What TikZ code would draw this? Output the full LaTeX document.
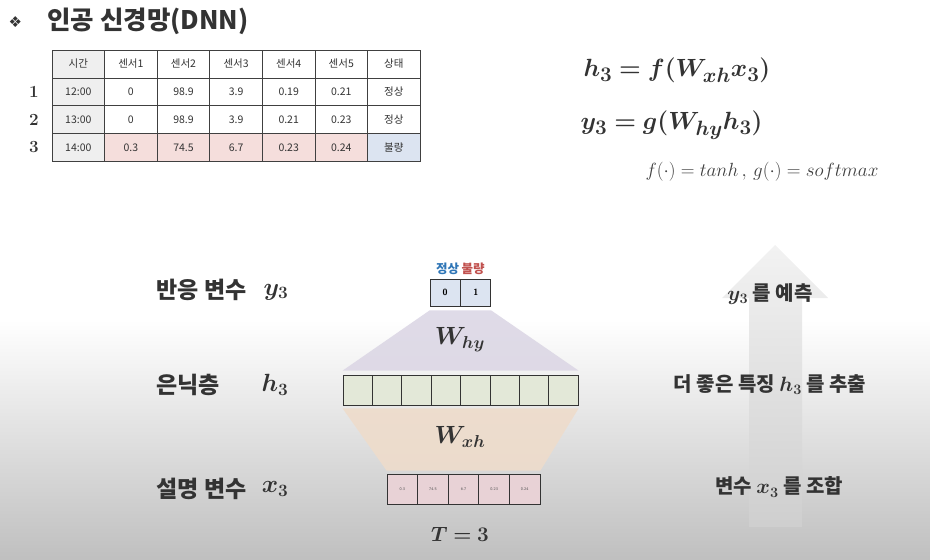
\documentclass[tikz,border=0pt]{standalone}
\usepackage{amsmath,amssymb,bm}
\usepackage{fontspec}
\usepackage{xcolor}
\usepackage{tikz}
\usetikzlibrary{positioning,calc}

\newfontfamily\kr{Noto Sans CJK KR}
\newfontfamily\symfont{DejaVu Sans}

\definecolor{hdgray}{HTML}{EFEFEF}
\definecolor{badpink}{HTML}{F5DEDC}
\definecolor{badblue}{HTML}{DCE4F1}
\definecolor{okblue}{HTML}{2E75B6}
\definecolor{ngred}{HTML}{C0504D}
\definecolor{whyfill}{HTML}{DCD7E5}
\definecolor{wxhfill}{HTML}{EEDCCB}
\definecolor{hidfill}{HTML}{E3E8D8}
\definecolor{infill}{HTML}{E8D2D6}
\definecolor{inkgray}{HTML}{333333}

\begin{document}
\begin{tikzpicture}[x=1pt,y=-1pt,
    cell/.style={draw=black!75, line width=0.8pt, minimum width=52.6pt,
      minimum height=27.8pt, inner sep=0pt, text=inkgray,
      font=\kr\fontsize{10.5}{11}\selectfont},
    rownum/.style={font=\bfseries\fontsize{17}{19}\selectfont, text=inkgray},
    outcell/.style={draw=black!80, line width=0.8pt, fill=badblue,
      minimum width=30pt, minimum height=27pt, inner sep=0pt,
      font=\sffamily\bfseries\fontsize{9}{10}\selectfont},
    hidcell/.style={draw=black!80, line width=0.8pt, fill=hidfill,
      minimum width=29.4pt, minimum height=30pt, inner sep=0pt},
    incell/.style={draw=black!80, line width=0.8pt, fill=infill,
      minimum width=30.6pt, minimum height=30pt, inner sep=0pt,
      font=\sffamily\fontsize{4}{5}\selectfont, text=black!70},
    bigkr/.style={font=\kr\bfseries\fontsize{23}{26}\selectfont, text=inkgray},
    sidekr/.style={font=\kr\bfseries\fontsize{20}{24}\selectfont, text=inkgray},
    bigmath/.style={font=\fontsize{25}{30}\selectfont, text=inkgray},
    eqmath/.style={font=\fontsize{28}{32}\selectfont, text=inkgray}]

  \useasboundingbox (0,0) rectangle (930,560);

  % Background fading to gray
  \shade[top color=white, bottom color=black!25] (0,320) rectangle (930,560);

  % Title
  \node[anchor=west, font=\symfont\fontsize{15}{17}\selectfont, text=inkgray] (bullet) at (5,22) {❖};
  \node[anchor=west, font=\kr\bfseries\fontsize{25.5}{29}\selectfont, text=inkgray] (title) at (44,21) {인공 신경망(DNN)};

  % Data table
  \foreach \v/\f [count=\j] in {시간/hdgray,센서1/white,센서2/white,센서3/white,센서4/white,센서5/white,상태/white}
    \node[cell, fill=\f] (t0-\j) at ({25.7+52.6*\j},64) {\v};
  \foreach \v/\f [count=\j] in {12:00/hdgray,0/white,98.9/white,3.9/white,0.19/white,0.21/white,정상/white}
    \node[cell, fill=\f] (t1-\j) at ({25.7+52.6*\j},91.8) {\v};
  \foreach \v/\f [count=\j] in {13:00/hdgray,0/white,98.9/white,3.9/white,0.21/white,0.23/white,정상/white}
    \node[cell, fill=\f] (t2-\j) at ({25.7+52.6*\j},119.6) {\v};
  \foreach \v/\f [count=\j] in {14:00/hdgray,0.3/badpink,74.5/badpink,6.7/badpink,0.23/badpink,0.24/badpink,불량/badblue}
    \node[cell, fill=\f] (t3-\j) at ({25.7+52.6*\j},147.4) {\v};
  \node[rownum] (n1) at (34,91.8) {1};
  \node[rownum] (n2) at (34,119.6) {2};
  \node[rownum] (n3) at (34,147.4) {3};

  % Model equations
  \node[anchor=west, eqmath] (eq1) at (580,70) {$\boldsymbol{h_3 = f(W_{xh}x_3)}$};
  \node[anchor=west, eqmath] (eq2) at (577,125) {$\boldsymbol{y_3 = g(W_{hy}h_3)}$};
  \node[anchor=west, font=\fontsize{20}{22}\selectfont, text=black!75] (act) at (642,172)
    {\scalebox{0.92}{$f(\cdot) = tanh\,,\, g(\cdot) = softmax$}};

  % Direction arrow
  \shade[top color=black!5, bottom color=black!19]
    (749,527) -- (749,298) -- (722,298) -- (775,245) -- (828,298)
    -- (802,298) -- (802,527) -- cycle;

  % Output layer
  \node[outcell] (o1) at (445,292.5) {0};
  \node[outcell, right=0pt of o1] (o2) {1};
  \node[above=0pt of o1.north east, anchor=south east, inner xsep=1pt, font=\kr\bfseries\fontsize{12.5}{14}\selectfont, text=okblue] (lok) {정상};
  \node[above=0pt of o2.north west, anchor=south west, inner xsep=1pt, font=\kr\bfseries\fontsize{12.5}{14}\selectfont, text=ngred] (lng) {불량};

  % Hidden and input layers
  \foreach \j in {1,...,8}
    \node[hidcell] (h\j) at ({343+29.4*(\j-0.5)},390) {};
  \foreach \v [count=\j] in {0.3,74.5,6.7,0.23,0.24}
    \node[incell] (x\j) at ({387+30.6*(\j-0.5)},489) {\v};

  % Weight blocks
  \fill[whyfill, fill opacity=0.9] ([yshift=-4pt]o1.south west) -- ([yshift=-4pt]o2.south east)
    -- ([yshift=4pt]h8.north east) -- ([yshift=4pt]h1.north west) -- cycle;
  \fill[wxhfill, fill opacity=0.9] ([yshift=-3pt]h1.south west) -- ([yshift=-3pt]h8.south east)
    -- ([yshift=3pt]x5.north east) -- ([yshift=3pt]x1.north west) -- cycle;
  \node[bigmath] (why) at (460,340) {$\boldsymbol{W_{hy}}$};
  \node[bigmath] (wxh) at (460,437) {$\boldsymbol{W_{xh}}$};
  \node[font=\fontsize{22}{26}\selectfont, text=inkgray] (tstep) at (460,534) {$\boldsymbol{T = 3}$};

  % Layer labels
  \node[anchor=west, bigkr] (ly) at (153,290) {반응 변수};
  \node[anchor=west, bigkr] (lh) at (153,385) {은닉층};
  \node[anchor=west, bigkr] (lx) at (153,489) {설명 변수};
  \node[anchor=east, bigmath] (my) at (292,292) {$\boldsymbol{y_3}$};
  \node[anchor=east, bigmath] (mh) at (292,385) {$\boldsymbol{h_3}$};
  \node[anchor=east, bigmath] (mx) at (292,489) {$\boldsymbol{x_3}$};

  % What each layer does
  \node[sidekr] (dy) at (770,294) {$\boldsymbol{y_3}$ 를 예측};
  \node[sidekr] (dh) at (770,385) {더 좋은 특징 $\boldsymbol{h_3}$ 를 추출};
  \node[sidekr] (dx) at (779,487) {변수 $\boldsymbol{x_3}$ 를 조합};

\end{tikzpicture}
\end{document}
